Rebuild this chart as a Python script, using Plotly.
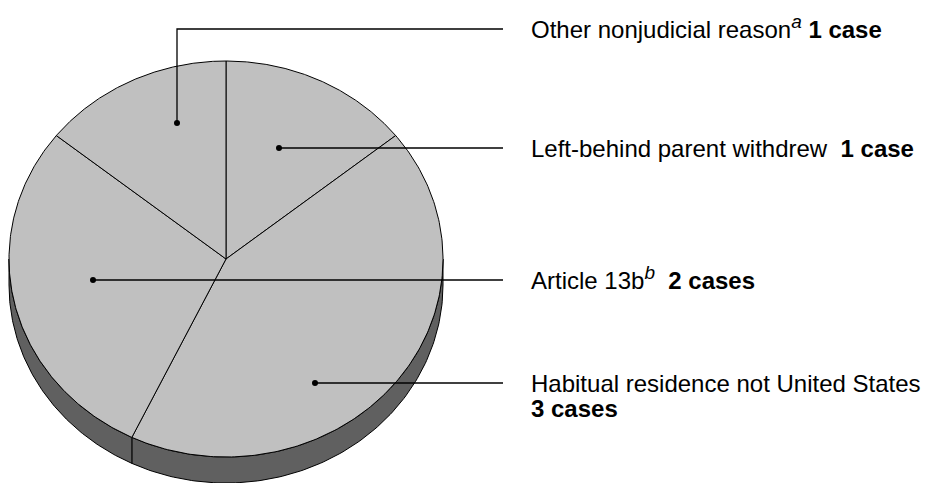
import numpy as np
import plotly.graph_objects as go

# ---- data ----
categories = ["Left-behind parent withdrew", "Habitual residence not United States",
              "Article 13b", "Other nonjudicial reason"]
cases = [1, 3, 2, 1]
SUP = '<sup><span style="font-size:19px"><i>%s</i></span></sup>'
label_texts = [
    "Left-behind parent withdrew  <b>1 case</b>",
    "Habitual residence not United States",
    "Article 13b" + SUP % "b" + "  <b>2 cases</b>",
    "Other nonjudicial reason" + SUP % "a" + " <b>1 case</b>",
]
extra_line = {1: "<b>3 cases</b>"}

# ---- layout constants (pixel space) ----
W, H = 930, 483
OFF = 8  # default page body margin
CX, CY = 226, 259
RX, RY = 217, 198
DEPTH = 26
TOP_COLOR = "#c0c0c0"
SIDE_COLOR = "#606060"
anchor_pts = [(279, 148), (315, 383), (93, 280), (177, 123)]
label_y = [148, 383, 280, 29]
text_dy = [0, 0, -2, -2]
LEAD_END = 503
TEXT_X = 529
FONT = "Liberation Sans, Arial, sans-serif"
FS = 24

fig = go.Figure()

total = sum(cases)
bounds = np.cumsum([0] + cases) / total * 2 * np.pi  # clockwise from 12 o'clock


def pt(phi, dy=0.0):
    return CX + RX * np.sin(phi), CY - RY * np.cos(phi) + dy


# side walls (front half: phi in [pi/2, 3pi/2])
for i in range(len(cases)):
    a0, a1 = max(bounds[i], np.pi / 2), min(bounds[i + 1], 3 * np.pi / 2)
    if a1 <= a0:
        continue
    ph = np.linspace(a0, a1, 120)
    xs_t, ys_t = pt(ph)
    xs_b, ys_b = pt(ph[::-1], DEPTH)
    xs = np.concatenate([xs_t, xs_b, [xs_t[0]]])
    ys = np.concatenate([ys_t, ys_b, [ys_t[0]]])
    fig.add_trace(go.Scatter(x=xs, y=ys, mode="lines", fill="toself",
                             fillcolor=SIDE_COLOR, line=dict(color="black", width=1),
                             hoverinfo="skip", showlegend=False))

# top face slices
for i in range(len(cases)):
    ph = np.linspace(bounds[i], bounds[i + 1], 200)
    xs, ys = pt(ph)
    xs = np.concatenate([[CX], xs, [CX]])
    ys = np.concatenate([[CY], ys, [CY]])
    fig.add_trace(go.Scatter(x=xs, y=ys, mode="lines", fill="toself",
                             fillcolor=TOP_COLOR, line=dict(color="black", width=1),
                             name=categories[i], hoverinfo="name", showlegend=False))

# leaders and labels
for i, (ax_, ay_) in enumerate(anchor_pts):
    ly = label_y[i]
    if abs(ly - ay_) > 1:
        lx, lyy = [ax_, ax_, LEAD_END], [ay_, ly, ly]
    else:
        lx, lyy = [ax_, LEAD_END], [ay_, ay_]
    fig.add_trace(go.Scatter(x=lx, y=lyy, mode="lines",
                             line=dict(color="black", width=1.3),
                             hoverinfo="skip", showlegend=False))
    fig.add_trace(go.Scatter(x=[ax_], y=[ay_], mode="markers",
                             marker=dict(color="black", size=6),
                             hoverinfo="skip", showlegend=False))
    fig.add_annotation(x=TEXT_X, y=ly + text_dy[i], text=label_texts[i], showarrow=False,
                       xanchor="left", yanchor="middle",
                       font=dict(family=FONT, size=FS, color="black"))
    if i in extra_line:
        fig.add_annotation(x=TEXT_X, y=ly + 25, text=extra_line[i], showarrow=False,
                           xanchor="left", yanchor="middle",
                           font=dict(family=FONT, size=FS, color="black"))

fig.update_layout(
    width=W, height=H, margin=dict(l=0, r=0, t=0, b=0),
    paper_bgcolor="white", plot_bgcolor="white",
    xaxis=dict(range=[OFF, W + OFF], visible=False, fixedrange=True),
    yaxis=dict(range=[H + OFF, OFF], visible=False, fixedrange=True),
)

fig.write_html("out.html")
